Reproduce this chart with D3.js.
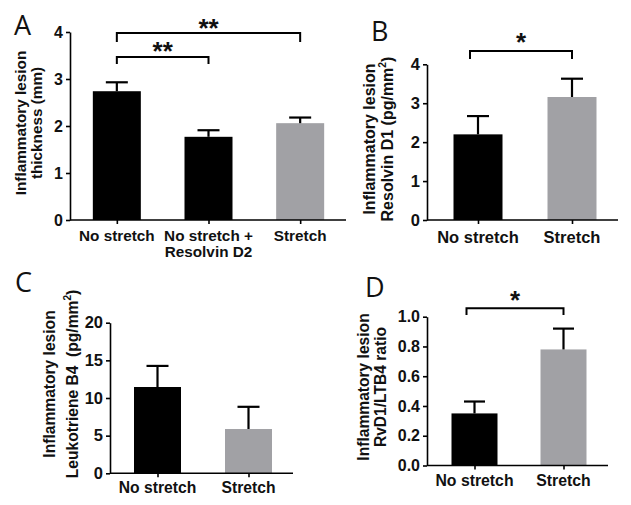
<!DOCTYPE html>
<html><head><meta charset="utf-8">
<script src="https://cdn.jsdelivr.net/npm/d3@7"></script>
<style>body{margin:0;background:#fff}svg{display:block}</style>
</head><body>
<script>
// ---- data ----
const catsA = ["No stretch", "No stretch +|Resolvin D2", "Stretch"];
const valsA = [2.74, 1.77, 2.06];
const errsA = [0.19, 0.14, 0.12];
const ticksA = [0, 1, 2, 3, 4];
const bracketsA = [[0, 2, "**"], [0, 1, "**"]];

const catsB = ["No stretch", "Stretch"];
const valsB = [2.20, 3.16];
const errsB = [0.47, 0.47];
const ticksB = [0, 1, 2, 3, 4];
const bracketsB = [[0, 1, "*"]];

const catsC = ["No stretch", "Stretch"];
const valsC = [11.46, 5.88];
const errsC = [2.80, 2.95];
const ticksC = [0, 5, 10, 15, 20];
const bracketsC = [];

const catsD = ["No stretch", "Stretch"];
const valsD = [0.35, 0.78];
const errsD = [0.08, 0.14];
const ticksD = [0, 0.2, 0.4, 0.6, 0.8, 1.0];
const bracketsD = [[0, 1, "*"]];

const groupA = ["ctrl", "ctrl", "stretch"];
const groupBCD = ["ctrl", "stretch"];
const colors = {ctrl: "#000000", stretch: "#a1a1a5"};

// ---- layout ----
const svg = d3.select("body").append("svg").attr("width", 631).attr("height", 505);
const FONT = "'Liberation Sans', Arial, sans-serif";

function panel(d, L) {
  const g = svg.append("g");
  const n = d.cats.length;
  const x = d3.scalePoint().domain(d3.range(n)).range([L.r0, L.r1]).padding(0.5);
  const y = d3.scaleLinear().domain([0, d.ticks[d.ticks.length - 1]]).range([L.yb, L.yt]);

  // bars
  g.selectAll("rect.bar").data(d.vals).join("rect")
    .attr("x", (v, i) => x(i) - L.bw / 2)
    .attr("y", v => y(v))
    .attr("width", L.bw)
    .attr("height", v => y(0) - y(v))
    .attr("fill", (v, i) => colors[d.groups[i]]);

  // error bars
  d.vals.forEach((v, i) => {
    const top = y(v + d.errs[i]);
    g.append("line").attr("x1", x(i)).attr("x2", x(i)).attr("y1", y(v)).attr("y2", top)
      .attr("stroke", "#000").attr("stroke-width", 2.2);
    g.append("line").attr("x1", x(i) - L.cap / 2).attr("x2", x(i) + L.cap / 2)
      .attr("y1", top).attr("y2", top).attr("stroke", "#000").attr("stroke-width", 2.2);
  });

  // y axis
  const ya = g.append("g").attr("transform", `translate(${L.ax0},0)`)
    .call(d3.axisLeft(y).tickValues(d.ticks).tickSize(4).tickSizeOuter(0).tickPadding(3)
      .tickFormat(d.fmt));
  ya.select(".domain").attr("stroke-width", 1.6);
  ya.selectAll(".tick line").attr("stroke-width", 1.6);
  ya.selectAll("text").attr("font-family", FONT).attr("font-weight", "bold")
    .attr("font-size", L.tfs).attr("fill", "#111");

  // x axis
  g.append("line").attr("x1", L.ax0).attr("x2", L.ax1).attr("y1", L.yb).attr("y2", L.yb)
    .attr("stroke", "#000").attr("stroke-width", 1.6);
  const xa = g.append("g").attr("transform", `translate(0,${L.yb})`)
    .call(d3.axisBottom(x).tickSize(4).tickSizeOuter(0).tickFormat(""));
  xa.select(".domain").remove();
  xa.selectAll(".tick line").attr("stroke-width", 1.6);
  d.cats.forEach((c, i) => {
    const t = g.append("text").attr("x", x(i)).attr("y", L.yb + L.xoff)
      .attr("text-anchor", "middle").attr("font-family", FONT).attr("font-weight", "bold")
      .attr("font-size", L.xfs).attr("fill", "#111");
    c.split("|").forEach((s, k) => {
      t.append("tspan").attr("x", x(i)).attr("dy", k ? 16.5 : 0).text(s);
    });
  });

  // y label
  const yl = g.append("text").attr("transform", `translate(${L.yl1},${L.ylc}) rotate(-90)`)
    .attr("text-anchor", "middle").attr("font-family", FONT).attr("font-weight", "bold")
    .attr("font-size", L.yfs).attr("fill", "#111");
  yl.append("tspan").attr("x", 0).attr("y", 0).text(d.ylab[0]);
  const l2 = yl.append("tspan").attr("x", 0).attr("y", L.yl2 - L.yl1);
  d.ylab[1].forEach(p => {
    if (p.sup) {
      l2.append("tspan").attr("font-size", L.yfs * 0.65).attr("dy", -7).text(p.t);
    } else if (p.after) {
      l2.append("tspan").attr("dy", 7).text(p.t);
    } else {
      l2.append("tspan").text(p.t);
    }
  });

  // brackets
  d.brackets.forEach((b, k) => {
    const B = L.br[k];
    const xa0 = x(b[0]) + (B.dl || 0), xa1 = x(b[1]);
    g.append("path").attr("d", `M${xa0},${B.drop}V${B.y}H${xa1}V${B.drop}`)
      .attr("fill", "none").attr("stroke", "#000").attr("stroke-width", 2);
    g.append("text").attr("x", (xa0 + xa1) / 2 + (B.sx || 0)).attr("y", B.sy)
      .attr("text-anchor", "middle").attr("font-family", FONT).attr("font-weight", "bold")
      .attr("font-size", 26).attr("fill", "#111").text(b[2]);
  });

  // panel letter
  g.append("text").attr("x", L.lx).attr("y", L.ly).attr("font-family", "'Open Sans', sans-serif")
    .attr("font-size", 27).attr("fill", "#111").text(d.letter);
}

panel({letter: "A", cats: catsA, vals: valsA, errs: errsA, ticks: ticksA, groups: groupA,
  fmt: d3.format("d"), brackets: bracketsA,
  ylab: ["Inflammatory lesion", [{t: "thickness (mm)"}]]},
  {r0: 71, r1: 346, ax0: 70, ax1: 346, yb: 220, yt: 32, bw: 48, cap: 22, tfs: 16,
   xfs: 15.3, xoff: 20.5, yfs: 15.3, yl1: 25.5, yl2: 41.5, ylc: 123, lx: 14, ly: 35,
   br: [{y: 33, drop: 42, sy: 37}, {y: 57, drop: 64, sy: 60}]});

panel({letter: "B", cats: catsB, vals: valsB, errs: errsB, ticks: ticksB, groups: groupBCD,
  fmt: d3.format("d"), brackets: bracketsB,
  ylab: ["Inflammatory lesion", [{t: "Resolvin D1 (pg/mm"}, {t: "2", sup: true}, {t: ")", after: true}]]},
  {r0: 431, r1: 619, ax0: 427, ax1: 618, yb: 220, yt: 64.3, bw: 49, cap: 22, tfs: 16.5,
   xfs: 16.5, xoff: 22.5, yfs: 16, yl1: 375, yl2: 393, ylc: 139, lx: 371, ly: 41,
   br: [{y: 51, drop: 59, sy: 51, dl: -8, sx: 0}]});

panel({letter: "C", cats: catsC, vals: valsC, errs: errsC, ticks: ticksC, groups: groupBCD,
  fmt: d3.format("d"), brackets: bracketsC,
  ylab: ["Inflammatory lesion", [{t: "Leukotriene B4\u00a0\u00a0(pg/mm"}, {t: "2", sup: true}, {t: ")", after: true}]]},
  {r0: 112, r1: 294, ax0: 110, ax1: 293, yb: 473.3, yt: 322.7, bw: 47, cap: 22, tfs: 16.5,
   xfs: 15.7, xoff: 20, yfs: 15.6, yl1: 55, yl2: 78, ylc: 384, lx: 15, ly: 292,
   br: []});

panel({letter: "D", cats: catsD, vals: valsD, errs: errsD, ticks: ticksD, groups: groupBCD,
  fmt: d3.format(".1f"), brackets: bracketsD,
  ylab: ["Inflammatory lesion", [{t: "RvD1/LTB4 ratio"}]]},
  {r0: 430, r1: 608, ax0: 427, ax1: 608, yb: 465.5, yt: 316.7, bw: 46, cap: 21, tfs: 16,
   xfs: 15.8, xoff: 20.5, yfs: 15.6, yl1: 369, yl2: 386, ylc: 387, lx: 365, ly: 297,
   br: [{y: 308.3, drop: 315, sy: 309, dl: -8, sx: 0}]});
</script>
</body></html>
